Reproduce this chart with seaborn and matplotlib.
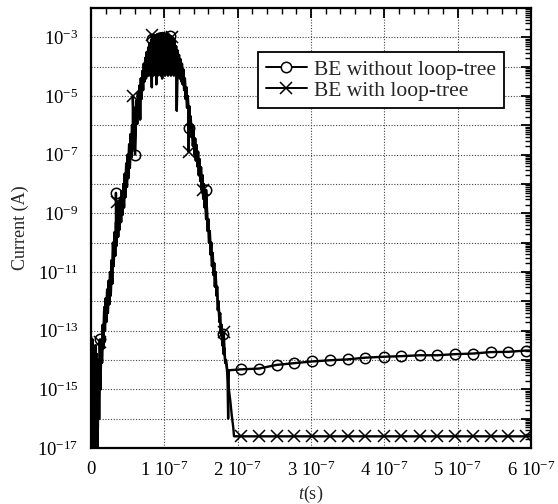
import numpy as np
import pandas as pd
import matplotlib
matplotlib.use("Agg")
import matplotlib.pyplot as plt
from matplotlib.ticker import FixedLocator, FuncFormatter, LogLocator, MultipleLocator, NullFormatter
from matplotlib.lines import Line2D
import seaborn as sns

# ---------------- data (time in units of 1e-7 s, current as log10(A)) ----------------
# common pulse, sampled every 0.01e-7 s from 0 to 1.84e-7 s (noisy, alternating peaks/dips)
pulse_step = 0.01
pulse_log10 = [
    -13.2, -17.5, -13.3, -16.0, -13.6, -17.5, -13.5, -15.5, -13.8, -17.5,
    -14.0, -16.0, -14.2, -15.0, -13.3, -14.1, -12.8, -13.6, -12.2, -13.0,
    -11.9, -12.7, -11.6, -12.4, -11.3, -12.1, -11.0, -11.8, -10.6, -11.4,
    -10.0, -10.8, -9.65, -10.45, -9.3, -10.1, -9.0, -9.8, -8.75, -9.55,
    -8.5, -9.3, -8.25, -9.05, -8.0, -8.8, -7.65, -8.45, -7.3, -8.1,
    -7.0, -7.8, -6.65, -7.45, -6.3, -7.1, -6.0, -6.8, -5.7, -6.5,
    -5.4, -6.2, -5.15, -5.95, -4.9, -5.7, -4.65, -5.8, -4.4, -5.1,
    -4.15, -4.8, -3.9, -4.5, -3.7, -4.4, -3.5, -4.3, -3.35, -4.3,
    -3.2, -4.2, -3.1, -4.7, -3.02, -4.3, -2.97, -4.2, -2.93, -4.6,
    -2.9, -4.3, -2.88, -4.2, -2.87, -4.3, -2.86, -4.4, -2.85, -4.1,
    -2.86, -4.3, -2.88, -4.2, -2.9, -4.3, -2.93, -4.2, -2.96, -4.3,
    -2.98, -4.2, -3.02, -4.3, -3.15, -4.2, -3.3, -5.5, -3.45, -4.3,
    -3.6, -4.4, -3.75, -4.5, -3.9, -4.6, -4.1, -4.8, -4.4, -5.1,
    -4.7, -5.4, -5.0, -5.7, -5.35, -6.1, -5.7, -6.4, -6.0, -6.7,
    -6.22, -7.0, -6.45, -7.2, -6.67, -7.4, -6.9, -7.7, -7.15, -7.9,
    -7.43, -8.2, -7.7, -8.5, -8.0, -8.8, -8.4, -9.2, -8.8, -9.6,
    -9.2, -10.0, -9.6, -10.4, -10.0, -10.8, -10.35, -11.1, -10.7, -11.5,
    -11.0, -11.8, -11.5, -12.3, -12.0, -12.7, -12.4, -13.1, -12.8, -13.5,
    -13.2, -13.8, -13.6, -14.1, -14.0,
]

# marker points on the pulse
noloop_pulse_mark_t = [0.12, 0.34, 0.60, 0.83, 1.08, 1.33, 1.57, 1.80]
noloop_pulse_mark_log10 = [-13.3, -8.3, -7.0, -3.05, -2.95, -6.1, -8.2, -13.1]
loop_pulse_mark_t = [0.12, 0.36, 0.57, 0.83, 1.10, 1.33, 1.53, 1.81]
loop_pulse_mark_log10 = [-13.4, -8.6, -5.0, -2.93, -3.0, -6.9, -8.2, -13.05]

# end of the pulse (series specific)
noloop_trans_t = [1.86, 1.87, 1.88]
noloop_trans_log10 = [-14.35, -16.0, -14.35]
loop_trans_t = [1.86, 1.88, 1.90, 1.92, 1.94, 1.95]
loop_trans_log10 = [-14.5, -15.0, -15.4, -15.9, -16.3, -16.6]

# late-time tail (marker positions) and end point
tail_t = [2.04, 2.29, 2.53, 2.77, 3.01, 3.26, 3.50, 3.74, 3.99, 4.23,
          4.48, 4.72, 4.96, 5.21, 5.45, 5.69, 5.93, 6.00]
noloop_tail_A = [4.8e-15, 5.1e-15, 6.8e-15, 7.8e-15, 8.9e-15, 9.8e-15, 1.05e-14, 1.2e-14, 1.29e-14,
                 1.35e-14, 1.45e-14, 1.45e-14, 1.58e-14, 1.66e-14, 1.86e-14, 1.9e-14, 2.1e-14, 2.1e-14]
loop_tail_A = [2.5e-17] * 18

labels = ["BE without loop-tree", "BE with loop-tree"]
x_tick_values = [0, 1, 2, 3, 4, 5, 6]
x_tick_labels = ["0"] + [r"%d 10$^{\mathregular{-7}}$" % k for k in range(1, 7)]
y_tick_exps = list(range(-17, -1))

# ---------------- build series ----------------
pulse_t = np.round(np.arange(len(pulse_log10)) * pulse_step, 2)
pulse_A = 10.0 ** np.array(pulse_log10)


def build(mark_t, mark_log, trans_t, trans_log, tail_vals):
    t = np.concatenate([pulse_t, mark_t, trans_t, tail_t])
    v = np.concatenate([pulse_A, 10.0 ** np.array(mark_log), 10.0 ** np.array(trans_log), tail_vals])
    order = np.argsort(t, kind="stable")
    line = pd.DataFrame({"t": t[order] * 1e-7, "I": v[order]})
    mt = np.concatenate([mark_t, tail_t[:-1]])
    mv = np.concatenate([10.0 ** np.array(mark_log), tail_vals[:-1]])
    marks = pd.DataFrame({"t": mt * 1e-7, "I": mv})
    return line, marks


line_A, marks_A = build(noloop_pulse_mark_t, noloop_pulse_mark_log10, noloop_trans_t,
                        noloop_trans_log10, np.array(noloop_tail_A))
line_B, marks_B = build(loop_pulse_mark_t, loop_pulse_mark_log10, loop_trans_t,
                        loop_trans_log10, np.array(loop_tail_A))

# ---------------- style ----------------
sns.set_theme(style="white")
plt.rcParams["font.family"] = ["Liberation Serif", "DejaVu Serif"]
plt.rcParams["mathtext.fontset"] = "custom"
plt.rcParams["mathtext.rm"] = "Liberation Serif"
plt.rcParams["mathtext.it"] = "Liberation Serif:italic"
plt.rcParams["mathtext.bf"] = "Liberation Serif:bold"
plt.rcParams["path.simplify"] = False

fig = plt.figure(figsize=(5.58, 5.04), dpi=100)
ax = fig.add_axes([91 / 558, 1 - 448 / 504, 440 / 558, 440 / 504])

LW = 1.7
sns.lineplot(data=line_A, x="t", y="I", ax=ax, color="black", linewidth=LW,
             sort=False, estimator=None, errorbar=None)
sns.lineplot(data=line_B, x="t", y="I", ax=ax, color="black", linewidth=LW,
             sort=False, estimator=None, errorbar=None)
sns.lineplot(data=marks_A, x="t", y="I", ax=ax, linestyle="none", marker="o", markersize=7.5,
             markerfacecolor="none", markeredgecolor="black", markeredgewidth=1.1,
             sort=False, estimator=None, errorbar=None)
sns.lineplot(data=marks_B, x="t", y="I", ax=ax, linestyle="none", marker="x", markersize=8.5,
             markeredgecolor="black", color="black", markeredgewidth=1.1,
             sort=False, estimator=None, errorbar=None)

ax.set_yscale("log")
ax.set_xlim(0, 6e-7)
ax.set_ylim(1e-17, 1e-2)

ax.xaxis.set_major_locator(FixedLocator([k * 1e-7 for k in x_tick_values]))
ax.set_xticklabels(x_tick_labels)
ax.xaxis.set_minor_locator(MultipleLocator(0.2e-7))

ax.yaxis.set_major_locator(FixedLocator([10.0 ** e for e in y_tick_exps]))


def fmt_y(v, pos):
    e = int(round(np.log10(v)))
    return r"10$^{\mathregular{%d}}$" % e if e % 2 else ""


ax.yaxis.set_major_formatter(FuncFormatter(fmt_y))
ax.yaxis.set_minor_locator(LogLocator(base=10, subs=np.arange(2, 10) * 1.0, numticks=200))
ax.yaxis.set_minor_formatter(NullFormatter())

ax.tick_params(which="both", direction="in", top=True, right=True, colors="black")
ax.tick_params(which="major", length=7, width=1.3, labelsize=13.5, pad=9)
ax.tick_params(which="minor", length=4, width=1.0)
ax.tick_params(axis="x", which="major", pad=9)

ax.grid(True, which="major", linestyle=(0, (1, 1.5)), color="#444444", linewidth=0.8)
for s in ax.spines.values():
    s.set_color("black")
    s.set_linewidth(1.6)

ax.set_ylabel("Current (A)", fontsize=13)
ax.set_xlabel(r"$t$(s)", fontsize=13)
ax.yaxis.set_label_coords(-0.14, 0.5)
ax.xaxis.set_label_coords(0.5, -0.082)

handles = [
    Line2D([0], [0], color="black", lw=1.4, marker="o", ms=7.5, mfc="white", mec="black", mew=1.1),
    Line2D([0], [0], color="black", lw=1.4, marker="x", ms=8.5, mec="black", mew=1.1),
]
leg = ax.legend(handles, labels, loc="upper right", bbox_to_anchor=(0.9386, 0.9),
                borderaxespad=0, fontsize=15.5, frameon=True, fancybox=False,
                framealpha=1, edgecolor="black", handlelength=1.9, handletextpad=0.35,
                labelspacing=0.05, borderpad=0.35)
leg.get_frame().set_linewidth(1.3)

fig.savefig("out.png", dpi=100)
